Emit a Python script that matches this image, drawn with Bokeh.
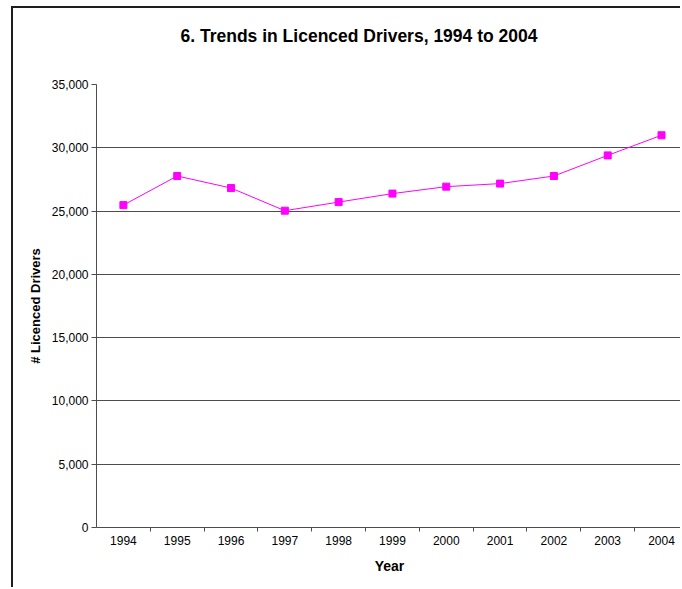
from bokeh.plotting import figure
from bokeh.models import Range1d, FixedTicker, NumeralTickFormatter, Title
from bokeh.embed import file_html
from bokeh.resources import INLINE

title_text = "6. Trends in Licenced Drivers, 1994 to 2004"
years = [1994, 1995, 1996, 1997, 1998, 1999, 2000, 2001, 2002, 2003, 2004]
drivers = [25470, 27770, 26820, 25030, 25710, 26380, 26930, 27170, 27770, 29400, 30990]
y_ticks = [0, 5000, 10000, 15000, 20000, 25000, 30000, 35000]

p = figure(width=669, height=581, output_backend="svg", toolbar_location=None,
           x_range=Range1d(1993.5, 2004.39), y_range=Range1d(0, 35000),
           min_border_left=83, min_border_top=76, min_border_bottom=62, min_border_right=0,
           title=None)
p.styles = {"border-left": "2px solid #1e1e1e", "border-top": "2px solid #1e1e1e",
            "margin-left": "11px", "margin-top": "6px"}

# spacer between frame and title, then the title itself
p.add_layout(Title(text=" ", text_font_size="10px", standoff=26), "above")
p.add_layout(Title(text=title_text, align="left", offset=84, vertical_align="bottom",
                   text_font="Liberation Sans", text_font_size="17.5px", text_font_style="bold",
                   text_color="black", standoff=0), "above")

p.outline_line_color = None
p.background_fill_color = "white"
p.border_fill_color = "white"

p.line(years, drivers, line_color="#FF00FF", line_width=1)
p.scatter(years, drivers, marker="square", size=7, fill_color="#FF00FF", line_color="#FF00FF")

p.xgrid.visible = False
p.ygrid.grid_line_color = "#4d4d4d"
p.ygrid.grid_line_width = 1
p.yaxis.ticker = FixedTicker(ticks=y_ticks)
p.yaxis.formatter = NumeralTickFormatter(format="0,0")
p.xaxis.ticker = FixedTicker(ticks=years, minor_ticks=[y + 0.5 for y in years])

for ax in (p.xaxis, p.yaxis):
    ax.axis_line_color = "#4d4d4d"
    ax.major_tick_line_color = "#4d4d4d"
    ax.minor_tick_line_color = "#4d4d4d"
    ax.major_label_text_font = "Liberation Sans"
    ax.major_label_text_font_size = "12px"
    ax.major_label_text_color = "black"
    ax.axis_label_text_font = "Liberation Sans"
    ax.axis_label_text_font_style = "bold"
    ax.axis_label_text_color = "black"

p.xaxis.axis_label = "Year"
p.xaxis.axis_label_text_font_size = "14px"
p.xaxis.major_tick_out = 0
p.xaxis.major_tick_in = 0
p.xaxis.minor_tick_out = 4
p.xaxis.minor_tick_in = 0
p.xaxis.major_label_standoff = 4
p.xaxis.axis_label_standoff = 10

p.yaxis.axis_label = "# Licenced Drivers"
p.yaxis.axis_label_text_font_size = "13px"
p.yaxis.major_tick_out = 5
p.yaxis.major_tick_in = 0
p.yaxis.minor_tick_out = 0
p.yaxis.minor_tick_in = 0
p.yaxis.major_label_standoff = 3
p.yaxis.axis_label_standoff = 6

open("out.html", "w").write(file_html(p, INLINE))
